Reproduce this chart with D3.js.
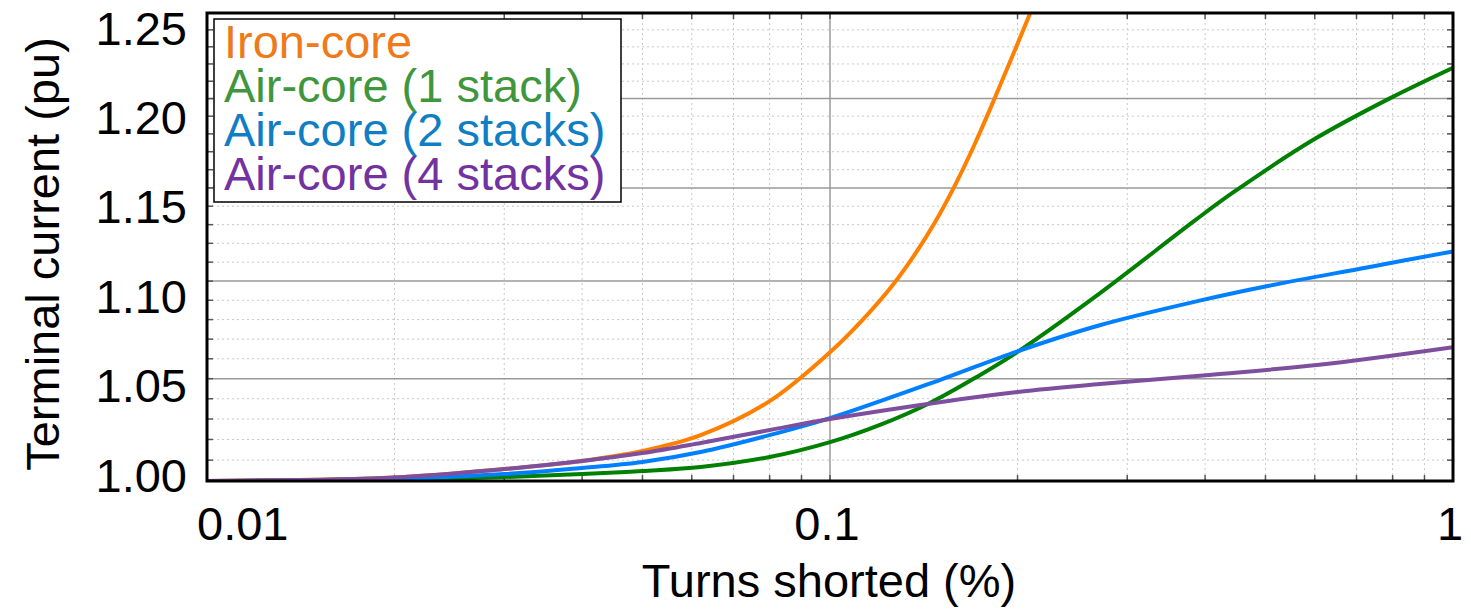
<!doctype html>
<html>
  <head>
    <script src="https://cdn.jsdelivr.net/npm/d3@7/dist/d3.min.js"></script>
    <style>
      body { margin: 0; background: #fff; }
      text { font-family: "Liberation Sans", Arial, sans-serif; }
    </style>
  </head>
  <body>
    <svg id="chart" width="1471" height="609"></svg>

    <script>
      var ironX   = [0.01, 0.02, 0.03, 0.04, 0.05, 0.062, 0.08, 0.1, 0.1126, 0.1262, 0.1374, 0.1474, 0.1587, 0.1709, 0.184, 0.2094, 0.234];
      var ironY   = [1.000, 1.0017, 1.0057, 1.0096, 1.0144, 1.0221, 1.0388, 1.0633, 1.0796, 1.0981, 1.1150, 1.1313, 1.1514, 1.1746, 1.2006, 1.2496, 1.2941];

      var air1X   = [0.01, 0.02, 0.03, 0.04, 0.05, 0.062, 0.08, 0.1, 0.12, 0.1444, 0.1723, 0.2, 0.271, 0.3853, 0.4437, 0.5976, 0.79, 1];
      var air1Y   = [1.000, 1.0005, 1.0019, 1.0033, 1.0048, 1.0067, 1.0115, 1.0187, 1.027, 1.0378, 1.051, 1.0635, 1.0936, 1.1323, 1.1475, 1.1768, 1.200, 1.2178];

      var air2X   = [0.01, 0.02, 0.03, 0.04, 0.05, 0.062, 0.08, 0.1, 0.15, 0.2, 0.271, 0.392, 0.502, 0.728, 1];
      var air2Y   = [1.000, 1.001, 1.0033, 1.0062, 1.0091, 1.0139, 1.0221, 1.0304, 1.0493, 1.0638, 1.0771, 1.0898, 1.0973, 1.1072, 1.1157];

      var air4X   = [0.01, 0.02, 0.03, 0.04, 0.05, 0.062, 0.08, 0.1, 0.15, 0.2, 0.271, 0.41, 0.61, 1];
      var air4Y   = [1.000, 1.0017, 1.0057, 1.0096, 1.0134, 1.0183, 1.0246, 1.0300, 1.0383, 1.0433, 1.0473, 1.0520, 1.0570, 1.0659];

      var seriesNames  = ["Iron-core", "Air-core (1 stack)", "Air-core (2 stacks)", "Air-core (4 stacks)"];
      var lineColors   = ["#ff8000", "#008000", "#0080ff", "#7e4f9e"];
      var legendColors = ["#ee7a1a", "#3f963c", "#0f7ec2", "#7232a0"];

      var xTicks      = [0.01, 0.1, 1];
      var xTickLabels = ["0.01", "0.1", "1"];
      var yTicks      = [1.00, 1.05, 1.10, 1.15, 1.20, 1.25];
      var yTickLabels = ["1.00", "1.05", "1.10", "1.15", "1.20", "1.25"];

      var svg = d3.select("#chart");
      var L = 207, R = 1453, T = 13, B = 481;
      var fs = 47;

      var x = d3.scaleLog().domain([0.01, 1]).range([L, R]);
      var y = d3.scaleLog().domain([1, 1.25]).range([B, T]);
      // the printed tick labels sit evenly spaced, not on the log gridlines
      var yLab = d3.scaleLinear().domain([1, 1.25]).range([475, 28]);

      // minor values
      var xMinor = [], yMinor = [];
      [0.01, 0.1].forEach(function(d) {
        for (var k = 2; k <= 9; k++) xMinor.push(d * k);
      });
      for (var i = 1; i < 25; i++) {
        if (i % 5 !== 0) yMinor.push(1 + i / 100);
      }
      var yMajor = [1.05, 1.10, 1.15, 1.20];

      var grid = svg.append("g");
      grid.selectAll(".xm").data(xMinor).enter().append("line")
        .attr("x1", function(d) { return x(d); }).attr("x2", function(d) { return x(d); })
        .attr("y1", T).attr("y2", B)
        .attr("stroke", "#c8c8c8").attr("stroke-width", 1).attr("stroke-dasharray", "2,3");
      grid.selectAll(".ym").data(yMinor).enter().append("line")
        .attr("x1", L).attr("x2", R)
        .attr("y1", function(d) { return y(d); }).attr("y2", function(d) { return y(d); })
        .attr("stroke", "#c8c8c8").attr("stroke-width", 1).attr("stroke-dasharray", "2,3");
      grid.selectAll(".yM").data(yMajor).enter().append("line")
        .attr("x1", L).attr("x2", R)
        .attr("y1", function(d) { return y(d); }).attr("y2", function(d) { return y(d); })
        .attr("stroke", "#9a9a9a").attr("stroke-width", 1.5);
      grid.append("line")
        .attr("x1", x(0.1)).attr("x2", x(0.1)).attr("y1", T).attr("y2", B)
        .attr("stroke", "#9a9a9a").attr("stroke-width", 1.5);

      // inward ticks on all four sides
      var ticks = svg.append("g").attr("stroke", "#555").attr("stroke-width", 1.5);
      xMinor.concat([0.1]).forEach(function(d) {
        ticks.append("line").attr("x1", x(d)).attr("x2", x(d)).attr("y1", B).attr("y2", B - 6);
        ticks.append("line").attr("x1", x(d)).attr("x2", x(d)).attr("y1", T).attr("y2", T + 6);
      });
      yMinor.concat(yMajor).forEach(function(d) {
        ticks.append("line").attr("x1", L).attr("x2", L + 6).attr("y1", y(d)).attr("y2", y(d));
        ticks.append("line").attr("x1", R).attr("x2", R - 6).attr("y1", y(d)).attr("y2", y(d));
      });

      // curves
      svg.append("defs").append("clipPath").attr("id", "clip").append("rect")
        .attr("x", L).attr("y", T).attr("width", R - L).attr("height", B - T);

      var series = [
        { xs: ironX, ys: ironY },
        { xs: air1X, ys: air1Y },
        { xs: air2X, ys: air2Y },
        { xs: air4X, ys: air4Y }
      ];
      var line = d3.line()
        .x(function(d) { return x(d[0]); })
        .y(function(d) { return y(d[1]); })
        .curve(d3.curveCatmullRom.alpha(0.5));

      var lines = svg.append("g").attr("clip-path", "url(#clip)");
      series.forEach(function(s, i) {
        var pts = s.xs.map(function(v, j) { return [v, s.ys[j]]; });
        lines.append("path")
          .attr("d", line(pts))
          .attr("fill", "none")
          .attr("stroke", lineColors[i])
          .attr("stroke-width", 4)
          .attr("stroke-linejoin", "round");
      });

      // frame
      svg.append("rect")
        .attr("x", L).attr("y", T).attr("width", R - L).attr("height", B - T)
        .attr("fill", "none").attr("stroke", "#000").attr("stroke-width", 3);

      // tick labels
      svg.selectAll(".xl").data(xTicks).enter().append("text")
        .attr("x", function(d, i) { return i === 0 ? x(d) - 10 : x(d) - 3; })
        .attr("y", 540)
        .attr("text-anchor", function(d, i) { return i === 0 ? "start" : "middle"; })
        .attr("font-size", fs)
        .text(function(d, i) { return xTickLabels[i]; });

      svg.selectAll(".yl").data(yTicks).enter().append("text")
        .attr("x", 187)
        .attr("y", function(d) { return yLab(d) + 16.5; })
        .attr("text-anchor", "end")
        .attr("font-size", fs)
        .text(function(d, i) { return yTickLabels[i]; });

      // axis titles
      svg.append("text")
        .attr("x", 829).attr("y", 597)
        .attr("text-anchor", "middle")
        .attr("font-size", fs)
        .text("Turns shorted (%)");

      svg.append("text")
        .attr("transform", "translate(59,254) rotate(-90)")
        .attr("text-anchor", "middle")
        .attr("font-size", fs)
        .text("Terminal current (pu)");

      // legend
      var leg = svg.append("g");
      leg.append("rect")
        .attr("x", 214).attr("y", 19).attr("width", 407).attr("height", 183)
        .attr("fill", "#fff").attr("stroke", "#000").attr("stroke-width", 1.5);
      leg.selectAll("text").data(seriesNames).enter().append("text")
        .attr("x", 224)
        .attr("y", function(d, i) { return 58 + i * 44; })
        .attr("font-size", fs)
        .attr("fill", function(d, i) { return legendColors[i]; })
        .text(function(d) { return d; });
    </script>
  </body>
</html>
